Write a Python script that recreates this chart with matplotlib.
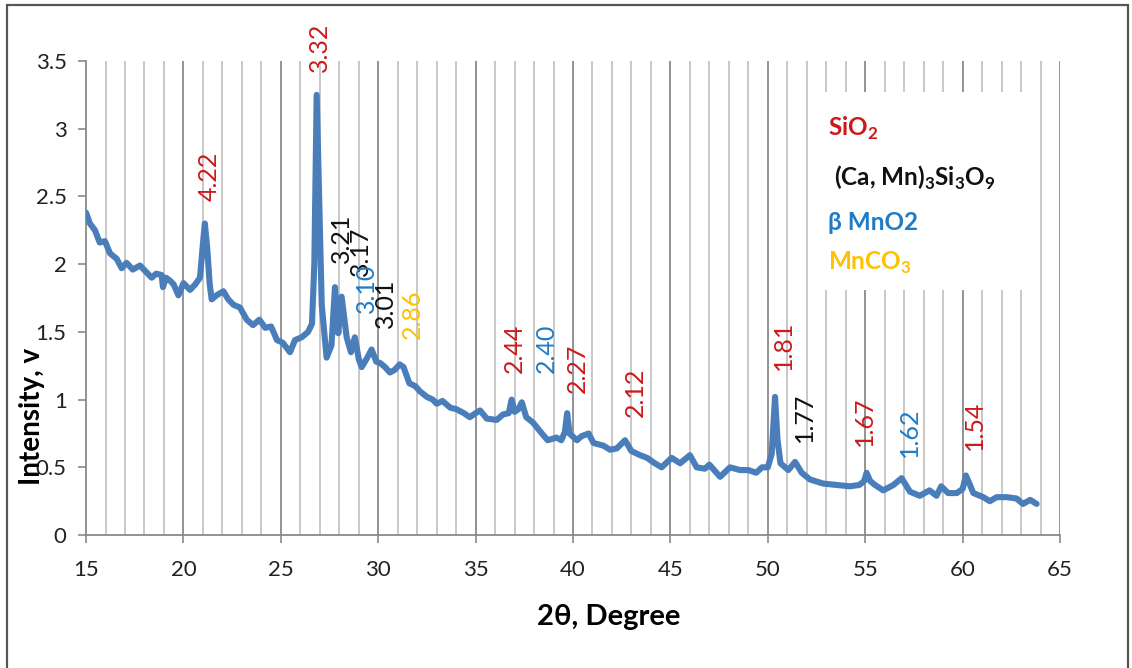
import matplotlib.pyplot as plt
from matplotlib.patches import Rectangle

plt.rcParams['font.family'] = ['Lato', 'DejaVu Sans']
plt.rcParams['mathtext.fontset'] = 'custom'
plt.rcParams['mathtext.rm'] = 'Lato'
plt.rcParams['mathtext.bf'] = 'Lato:bold'

# XRD pattern, 2-theta (degree) vs intensity (v)
two_theta = [
    15.0, 15.2, 15.46, 15.7, 15.97, 16.23, 16.57, 16.83, 17.08, 17.4,
    17.77, 18.1, 18.37, 18.6, 18.88, 18.95, 19.1, 19.3, 19.5, 19.74,
    20.0, 20.34, 20.6, 20.85, 21.0, 21.1, 21.22, 21.35, 21.45, 21.7,
    22.05, 22.3, 22.57, 22.9, 23.25, 23.57, 23.9, 24.2, 24.5, 24.8,
    25.1, 25.47, 25.73, 26.07, 26.4, 26.6, 26.72, 26.84, 26.95, 27.1,
    27.35, 27.6, 27.78, 27.95, 28.12, 28.38, 28.6, 28.8, 29.0, 29.15,
    29.4, 29.66, 29.9, 30.1, 30.35, 30.6, 30.85, 31.1, 31.3, 31.6,
    31.9, 32.15, 32.5, 32.8, 33.0, 33.3, 33.7, 34.0, 34.4, 34.7,
    35.0, 35.23, 35.57, 36.08, 36.4, 36.7, 36.85, 37.0, 37.2, 37.37,
    37.6, 37.95, 38.4, 38.7, 39.15, 39.4, 39.58, 39.7, 39.82, 40.2,
    40.44, 40.8, 41.05, 41.56, 41.9, 42.25, 42.67, 43.0, 43.44, 43.8,
    44.2, 44.55, 45.06, 45.5, 46.0, 46.35, 46.77, 47.0, 47.55, 48.06,
    48.57, 49.0, 49.4, 49.7, 50.0, 50.2, 50.37, 50.5, 50.65, 51.05,
    51.4, 51.74, 52.17, 52.85, 53.5, 54.2, 54.7, 54.95, 55.07, 55.25,
    55.5, 55.93, 56.45, 56.87, 57.3, 57.8, 58.3, 58.66, 58.9, 59.26,
    59.7, 60.0, 60.17, 60.35, 60.55, 61.06, 61.4, 61.75, 62.26, 62.77,
    63.1, 63.47, 63.8,
]
intensity = [
    2.38, 2.30, 2.25, 2.16, 2.17, 2.08, 2.04, 1.97, 2.01, 1.96,
    1.99, 1.94, 1.90, 1.93, 1.92, 1.83, 1.90, 1.88, 1.85, 1.77,
    1.86, 1.81, 1.85, 1.90, 2.15, 2.30, 2.12, 1.85, 1.74, 1.77,
    1.80, 1.74, 1.70, 1.68, 1.59, 1.55, 1.59, 1.53, 1.54, 1.44,
    1.42, 1.35, 1.44, 1.46, 1.50, 1.56, 2.00, 3.25, 2.60, 1.70,
    1.31, 1.40, 1.83, 1.49, 1.76, 1.46, 1.35, 1.46, 1.30, 1.24,
    1.30, 1.37, 1.28, 1.27, 1.24, 1.20, 1.22, 1.26, 1.24, 1.12,
    1.10, 1.06, 1.02, 1.00, 0.97, 0.99, 0.94, 0.93, 0.90, 0.87,
    0.90, 0.92, 0.86, 0.85, 0.89, 0.90, 1.00, 0.91, 0.93, 0.98,
    0.87, 0.83, 0.75, 0.70, 0.72, 0.70, 0.76, 0.90, 0.75, 0.70,
    0.73, 0.75, 0.68, 0.66, 0.63, 0.64, 0.70, 0.62, 0.59, 0.57,
    0.53, 0.50, 0.57, 0.53, 0.59, 0.50, 0.49, 0.52, 0.43, 0.50,
    0.48, 0.48, 0.46, 0.50, 0.50, 0.60, 1.02, 0.70, 0.53, 0.48,
    0.54, 0.46, 0.41, 0.38, 0.37, 0.36, 0.37, 0.40, 0.46, 0.40,
    0.37, 0.33, 0.37, 0.42, 0.32, 0.29, 0.33, 0.29, 0.36, 0.31,
    0.31, 0.34, 0.44, 0.38, 0.31, 0.28, 0.25, 0.28, 0.28, 0.27,
    0.23, 0.26, 0.23,
]

# d-spacing labels: text, x, y (bottom of the label), phase colour
peak_text = ['4.22', '3.32', '3.21', '3.17', '3.10', '3.01', '2.86',
             '2.44', '2.40', '2.27', '2.12', '1.81', '1.77', '1.67',
             '1.62', '1.54']
peak_x = [21.3, 26.96, 28.12, 29.1, 29.4, 30.35, 31.76,
          37.0, 38.65, 40.2, 43.2, 50.8, 51.9, 54.94, 57.25, 60.6]
peak_y = [2.47, 3.42, 2.01, 1.91, 1.64, 1.53, 1.45,
          1.20, 1.20, 1.05, 0.87, 1.22, 0.69, 0.66, 0.58, 0.63]

red = '#cc1a1a'
black = '#111111'
blue = '#1f7bc4'
gold = '#ffc000'
peak_color = [red, red, black, black, blue, black, gold,
              red, blue, red, red, red, black, red, blue, red]

phases = [r'SiO$_\mathbf{2}$',
          r'(Ca, Mn)$_\mathbf{3}$Si$_\mathbf{3}$O$_\mathbf{9}$',
          'β MnO2',
          r'MnCO$_\mathbf{3}$']
phase_color = [red, black, blue, gold]

fig = plt.figure(figsize=(11.32, 6.68), dpi=100)
ax = fig.add_axes([0.076, 0.199, 0.8604, 0.7097])

ax.set_xlim(15, 65)
ax.set_ylim(0, 3.5)

# vertical gridlines every degree, darker every 5
for g in range(16, 66):
    major = g % 5 == 0
    ax.axvline(g, color='#8a8a8a' if major else '#c4c4c4', lw=1.3, zorder=1)

# white box behind the phase list
ax.add_patch(Rectangle((52.35, 1.81), 11.2, 1.46, facecolor='white',
                       edgecolor='none', zorder=2))

ax.plot(two_theta, intensity, color='#4a7ebb', lw=4.4,
        solid_joinstyle='round', solid_capstyle='round', zorder=3)

for t, x, y, c in zip(peak_text, peak_x, peak_y, peak_color):
    ax.text(x, y, t, rotation=90, ha='center', va='bottom',
            fontsize=18, color=c, zorder=4)

legend_y = [3.0, 2.64, 2.31, 2.01]
legend_x = [53.1, 53.4, 53.1, 53.1]
for s, x, y, c in zip(phases, legend_x, legend_y, phase_color):
    ax.text(x, y, s, fontsize=17.5, fontweight='bold', color=c,
            va='center', ha='left', zorder=4)

ax.set_xticks(range(15, 66, 5))
ax.set_yticks([0, 0.5, 1, 1.5, 2, 2.5, 3, 3.5])
ax.set_yticklabels(['0', '0.5', '1', '1.5', '2', '2.5', '3', '3.5'])
ax.tick_params(axis='both', labelsize=16, length=6, width=1.2,
               color='#8a8a8a', direction='out', labelcolor='#222222')
ax.tick_params(axis='y', pad=8)
ax.tick_params(axis='x', pad=12)

for side in ['top', 'right']:
    ax.spines[side].set_visible(False)
for side in ['left', 'bottom']:
    ax.spines[side].set_color('#8a8a8a')
    ax.spines[side].set_linewidth(1.3)

ax.set_xlabel('2θ, Degree', fontsize=21, fontweight='bold')
ax.xaxis.set_label_coords(0.537, -0.145)
ax.set_ylabel('Intensity, v', fontsize=20, fontweight='bold')
ax.yaxis.set_label_coords(-0.042, 0.25)

# outer frame
fig.patches.append(Rectangle((7 / 1132, -0.1), 1121 / 1132, 1.1 - 5 / 668,
                             transform=fig.transFigure, fill=False,
                             edgecolor='#555555', lw=1.6))

fig.savefig('out.png', dpi=100)
